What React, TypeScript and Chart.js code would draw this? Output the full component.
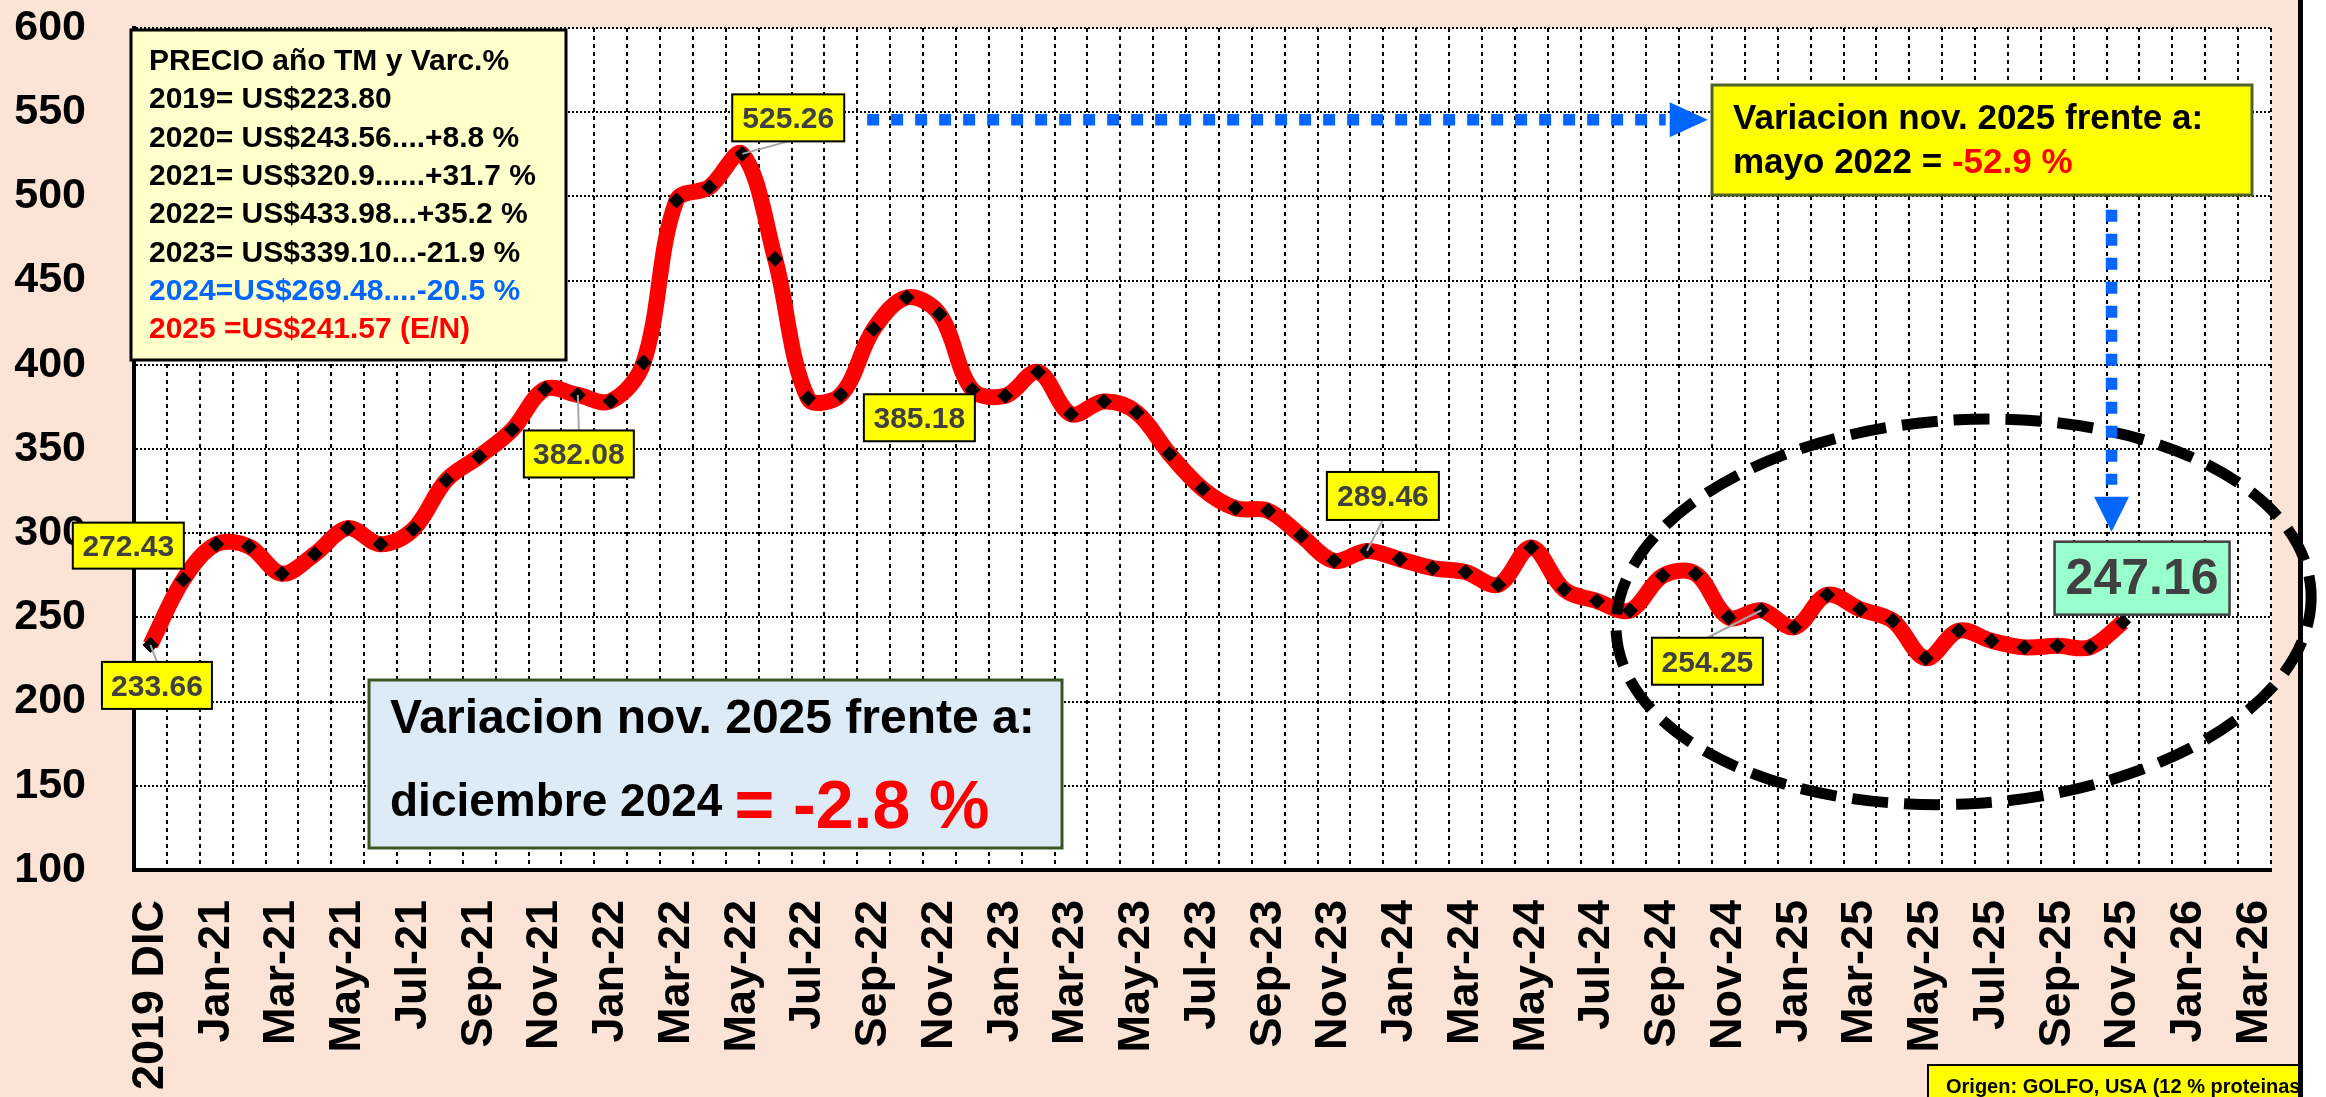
import React, { useEffect, useRef } from 'react';
import { Chart, registerables } from 'chart.js';

Chart.register(...registerables);

const W = 2326;
const H = 1097;
const FONT = "'Liberation Sans', Arial, Helvetica, sans-serif";

// ---------- DATA ----------
const categories = [
  '2019 DIC', 'Dec-20',
  'Jan-21', 'Feb-21', 'Mar-21', 'Apr-21', 'May-21', 'Jun-21', 'Jul-21', 'Aug-21', 'Sep-21', 'Oct-21', 'Nov-21', 'Dec-21',
  'Jan-22', 'Feb-22', 'Mar-22', 'Apr-22', 'May-22', 'Jun-22', 'Jul-22', 'Aug-22', 'Sep-22', 'Oct-22', 'Nov-22', 'Dec-22',
  'Jan-23', 'Feb-23', 'Mar-23', 'Apr-23', 'May-23', 'Jun-23', 'Jul-23', 'Aug-23', 'Sep-23', 'Oct-23', 'Nov-23', 'Dec-23',
  'Jan-24', 'Feb-24', 'Mar-24', 'Apr-24', 'May-24', 'Jun-24', 'Jul-24', 'Aug-24', 'Sep-24', 'Oct-24', 'Nov-24', 'Dec-24',
  'Jan-25', 'Feb-25', 'Mar-25', 'Apr-25', 'May-25', 'Jun-25', 'Jul-25', 'Aug-25', 'Sep-25', 'Oct-25', 'Nov-25', 'Dec-25',
  'Jan-26', 'Feb-26', 'Mar-26',
];

const prices = [
  233.66, 272.43, 293.5, 292.1, 275.9, 287.6, 303.0, 293.5, 302.4, 331.5, 345.6, 361.4, 385.6, 382.08,
  378.4, 401.4, 497.6, 505.5, 525.26, 462.9, 380.2, 382.2, 421.2, 440.0, 430.1, 385.18, 381.6, 395.7,
  370.7, 378.2, 371.7, 347.0, 326.4, 314.9, 313.3, 298.5, 283.6, 289.46, 284.6, 279.3, 276.9, 269.4,
  291.5, 266.6, 259.7, 254.1, 274.7, 275.9, 250.0, 254.25, 244.1, 263.4, 254.9, 248.0, 225.8, 242.1,
  236.1, 232.2, 233.1, 232.3, 247.16,
];

const yMin = 100;
const yMax = 600;
const yStep = 50;

const labeledIndexes = [0, 1, 13, 18, 25, 37, 49, 60];

const summaryLines = [
  'PRECIO año TM y Varc.%',
  '2019= US$223.80',
  '2020= US$243.56....+8.8 %',
  '2021= US$320.9......+31.7 %',
  '2022= US$433.98...+35.2 %',
  '2023= US$339.10...-21.9 %',
  '2024=US$269.48....-20.5 %',
  '2025 =US$241.57 (E/N)',
];

// ---------- ANNOTATION LAYOUT (styles / offsets) ----------
const summaryColors = ['#000000', '#000000', '#000000', '#000000', '#000000', '#000000', '#0066FF', '#FF0000'];

const labelLayout: Record<number, { dx: number; dy: number; w: number; h: number; leader: boolean; big?: boolean }> = {
  0: { dx: 6.5, dy: 40.5, w: 110, h: 47, leader: true },
  1: { dx: -55, dy: -34, w: 111, h: 46, leader: false },
  13: { dx: 1, dy: 59, w: 110, h: 47, leader: true },
  18: { dx: 46, dy: -36, w: 112, h: 47, leader: true },
  25: { dx: -53, dy: 28, w: 111, h: 47, leader: false },
  37: { dx: 16, dy: -55, w: 112, h: 48, leader: true },
  49: { dx: -54, dy: 51, w: 111, h: 47, leader: true },
  60: { dx: 19, dy: -44, w: 175, h: 73, leader: false, big: true },
};

const chartData = categories.map((_, i) => (i < prices.length ? prices[i] : null));

function box(ctx: CanvasRenderingContext2D, x: number, y: number, w: number, h: number, fill: string, stroke: string, lw: number) {
  ctx.fillStyle = fill;
  ctx.fillRect(x, y, w, h);
  ctx.lineWidth = lw;
  ctx.strokeStyle = stroke;
  ctx.setLineDash([]);
  ctx.strokeRect(x, y, w, h);
}

const annotationPlugin = {
  id: 'annotations',
  beforeDraw(chart: any) {
    const { ctx, chartArea: a, width, height } = chart;
    ctx.save();
    ctx.fillStyle = '#FBE3D6';
    ctx.fillRect(0, 0, width, height);
    ctx.fillStyle = '#FFFFFF';
    ctx.fillRect(a.left, a.top, a.right - a.left, a.bottom - a.top);
    ctx.fillStyle = '#FFFFFF';
    ctx.fillRect(width - 23, 0, 23, height);
    ctx.fillStyle = '#000000';
    ctx.fillRect(width - 28, 0, 5, height);
    ctx.restore();
  },
  afterDraw(chart: any) {
    const { ctx, width, height } = chart;
    const xs = chart.scales.x;
    const ys = chart.scales.y;
    const X = (i: number) => xs.getPixelForValue(i);
    const Y = (v: number) => ys.getPixelForValue(v);
    ctx.save();

    // dashed ellipse
    ctx.beginPath();
    ctx.ellipse(X(55.15), Y(253.3), 348, 192, -0.06, 0, Math.PI * 2);
    ctx.setLineDash([36, 16]);
    ctx.lineWidth = 11;
    ctx.strokeStyle = '#000000';
    ctx.stroke();

    // blue horizontal arrow
    const blue = '#0066FF';
    const hy = Y(545.5);
    ctx.setLineDash([12, 12]);
    ctx.lineWidth = 11.5;
    ctx.strokeStyle = blue;
    ctx.beginPath();
    ctx.moveTo(X(21.8), hy);
    ctx.lineTo(X(46.09), hy);
    ctx.stroke();
    ctx.setLineDash([]);
    ctx.fillStyle = blue;
    ctx.beginPath();
    ctx.moveTo(X(46.21), hy - 17.5);
    ctx.lineTo(X(47.37), hy);
    ctx.lineTo(X(46.21), hy + 17.5);
    ctx.closePath();
    ctx.fill();

    // blue vertical arrow
    const vx = X(59.65);
    ctx.setLineDash([12, 12]);
    ctx.beginPath();
    ctx.moveTo(vx, Y(492));
    ctx.lineTo(vx, Y(328.7));
    ctx.stroke();
    ctx.setLineDash([]);
    ctx.beginPath();
    ctx.moveTo(vx - 17.5, Y(321.6));
    ctx.lineTo(vx + 17.5, Y(321.6));
    ctx.lineTo(vx, Y(300.8));
    ctx.closePath();
    ctx.fill();

    // summary box top-left
    box(ctx, 131, 30, 435, 330, '#FFFFCC', '#000000', 3);
    ctx.font = `bold 30px ${FONT}`;
    ctx.textAlign = 'left';
    ctx.textBaseline = 'alphabetic';
    summaryLines.forEach((t, k) => {
      ctx.fillStyle = summaryColors[k];
      ctx.fillText(t, 149, 70 + k * 38.3);
    });

    // bottom-left variation box
    box(ctx, 369, 680, 693, 168, '#DDEBF7', '#385723', 3);
    ctx.fillStyle = '#000000';
    ctx.font = `bold 48px ${FONT}`;
    ctx.fillText('Variacion nov. 2025 frente a:', 390, 733);
    ctx.font = `bold 46px ${FONT}`;
    const t2 = 'diciembre 2024';
    ctx.fillText(t2, 390, 816);
    const w2 = ctx.measureText(t2).width;
    ctx.fillStyle = '#FF0000';
    ctx.font = `bold 68px ${FONT}`;
    ctx.fillText('= -2.8 %', 390 + w2 + 12, 828);

    // top-right yellow box
    box(ctx, 1712, 85, 540, 110, '#FFFF00', '#4F6228', 3);
    ctx.fillStyle = '#000000';
    ctx.font = `bold 35px ${FONT}`;
    ctx.fillText('Variacion nov. 2025 frente a:', 1733, 129);
    const t3 = 'mayo 2022 = ';
    ctx.fillText(t3, 1733, 173);
    const w3 = ctx.measureText(t3).width;
    ctx.fillStyle = '#FF0000';
    ctx.fillText('-52.9 %', 1733 + w3, 173);

    // data labels
    labeledIndexes.forEach((i) => {
      const L = labelLayout[i];
      const px = X(i);
      const py = Y(prices[i]);
      const cx = px + L.dx;
      const cy = py + L.dy;
      const left = cx - L.w / 2;
      const top = cy - L.h / 2;
      if (L.leader) {
        ctx.strokeStyle = '#A6A6A6';
        ctx.lineWidth = 2;
        ctx.setLineDash([]);
        ctx.beginPath();
        ctx.moveTo(px, py);
        ctx.lineTo(cx, cy > py ? top : top + L.h);
        ctx.stroke();
      }
      box(ctx, left, top, L.w, L.h, L.big ? '#99FFCC' : '#FFFF00', L.big ? '#404040' : '#000000', L.big ? 2.5 : 2);
      ctx.fillStyle = '#404040';
      ctx.font = `bold ${L.big ? 50 : 30}px ${FONT}`;
      ctx.textAlign = 'center';
      ctx.textBaseline = 'middle';
      ctx.fillText(prices[i].toFixed(2), cx, cy + 2);
      ctx.textAlign = 'left';
      ctx.textBaseline = 'alphabetic';
    });

    // origin note bottom-right
    ctx.save();
    ctx.beginPath();
    ctx.rect(0, 0, width - 28, height);
    ctx.clip();
    box(ctx, 1928, 1065, 380, 40, '#FFFF00', '#000000', 2);
    ctx.fillStyle = '#000000';
    ctx.font = `bold 20px ${FONT}`;
    ctx.fillText('Origen: GOLFO, USA (12 % proteinas)', 1946, 1093);
    ctx.restore();

    ctx.restore();
  },
};

export default function App() {
  const ref = useRef<HTMLCanvasElement>(null);
  useEffect(() => {
    document.body.style.margin = '0';
    const canvas = ref.current!;
    const chart = new Chart(canvas, {
      type: 'line',
      data: {
        labels: categories,
        datasets: [
          {
            data: chartData,
            borderColor: '#FF0000',
            borderWidth: 16,
            tension: 0.35,
            pointStyle: 'rectRot',
            pointRadius: 7.5,
            pointBackgroundColor: '#000000',
            pointBorderColor: '#000000',
            pointBorderWidth: 1,
            spanGaps: false,
            fill: false,
          },
        ],
      },
      options: {
        animation: false,
        responsive: false,
        devicePixelRatio: 1,
        layout: { padding: { left: 0, right: 55, top: 28, bottom: 0 } },
        plugins: { legend: { display: false }, tooltip: { enabled: false } },
        scales: {
          x: {
            type: 'category',
            offset: true,
            grid: { offset: true, color: '#000000', lineWidth: 2, drawTicks: false },
            border: { display: true, color: '#000000', width: 4, dash: [4, 4] },
            ticks: {
              autoSkip: false,
              minRotation: 90,
              maxRotation: 90,
              padding: 30,
              color: '#000000',
              font: { family: FONT, size: 45, weight: 'bold' },
              callback: (_v: any, i: number) => (i % 2 === 0 ? categories[i] : ''),
            },
            afterFit: (s: any) => {
              s.height = 227;
              s.paddingLeft = 0;
              s.paddingRight = 0;
            },
          },
          y: {
            min: yMin,
            max: yMax,
            grid: { color: '#000000', lineWidth: 2, drawTicks: false },
            border: { display: true, color: '#000000', width: 4, dash: [2, 2] },
            ticks: {
              stepSize: yStep,
              padding: 48,
              color: '#000000',
              font: { family: FONT, size: 43, weight: 'bold' },
            },
            afterFit: (s: any) => {
              s.width = 134;
              s.paddingTop = 0;
              s.paddingBottom = 0;
            },
          },
        },
      },
      plugins: [annotationPlugin],
    } as any);
    return () => chart.destroy();
  }, []);
  return (
    <div style={{ width: W, height: H }}>
      <canvas ref={ref} width={W} height={H} style={{ display: 'block' }} />
    </div>
  );
}
